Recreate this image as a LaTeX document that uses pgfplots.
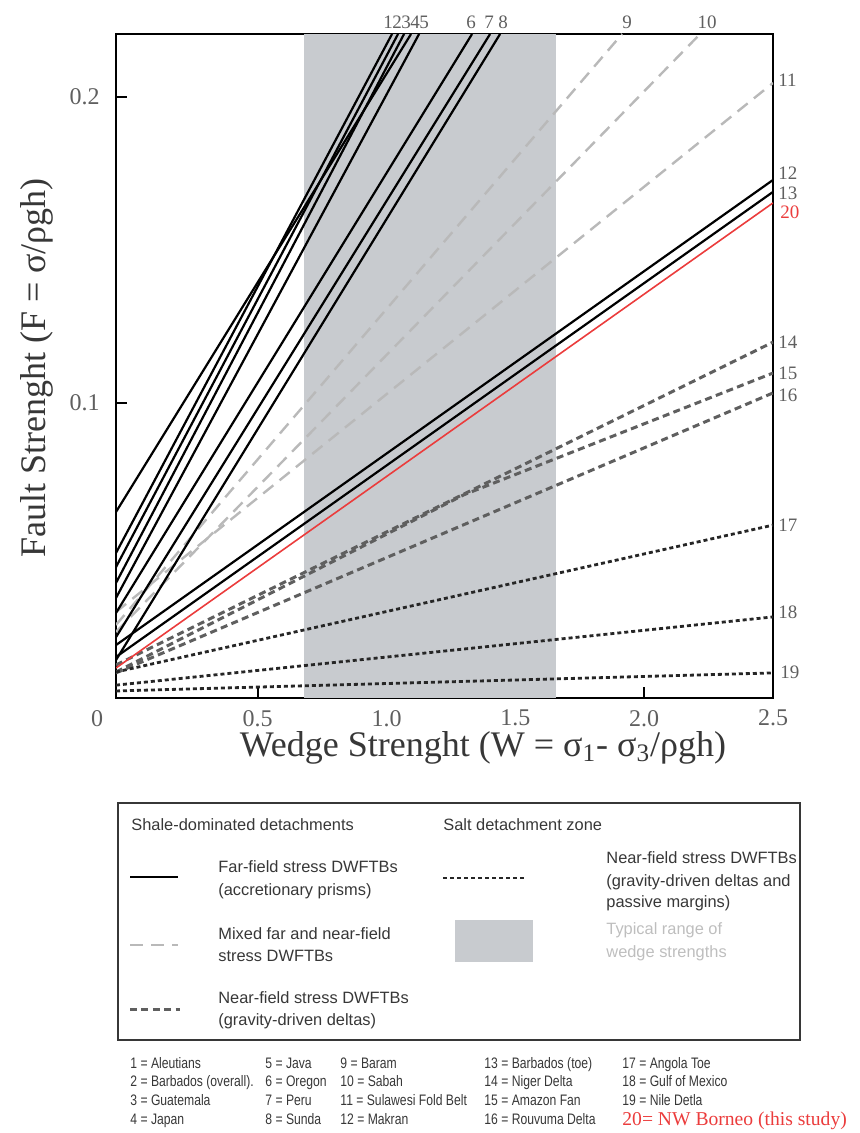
\documentclass[border=0pt]{standalone}
\usepackage{pgfplots}
\pgfplotsset{compat=1.18}
\usepackage{fontspec}
\setmainfont{Liberation Serif}
\newfontfamily\legfont{Liberation Sans}
\newfontfamily\listfont[FakeStretch=0.8]{Liberation Sans}
\definecolor{band}{RGB}{200,203,207}
\definecolor{mixgray}{RGB}{185,185,185}
\definecolor{neargray}{RGB}{95,95,95}
\definecolor{lblgray}{RGB}{95,95,95}
\definecolor{redline}{RGB}{235,60,60}
\definecolor{txtgray}{RGB}{55,55,55}
\definecolor{lighttxt}{RGB}{190,190,190}
\tikzset{
 solidl/.style={black, line width=1.1pt},
 mixl/.style={mixgray, line width=1.2pt, dash pattern=on 6.5pt off 4pt},
 nearl/.style={neargray, line width=1.5pt, dash pattern=on 3.5pt off 2.2pt},
 saltl/.style={black!85, line width=1.4pt, dash pattern=on 2pt off 1.5pt},
 redl/.style={redline, line width=0.8pt},
}
\begin{document}
\begin{tikzpicture}
\path[use as bounding box] (0,0) rectangle (430pt,-566.5pt);
\begin{axis}[
 at={(58pt,-349pt)}, anchor=south west,
 scale only axis, width=328.5pt, height=332pt,
 xmin=-0.05, xmax=2.5, ymin=0.0036, ymax=0.2206,
 axis line style={line width=1.25pt},
 no markers,
 xtick={0.5,1,1.5,2,2.5}, xticklabels={0.5,1.0,1.5,2.0,2.5},
 extra x ticks={-0.05}, extra x tick labels={0},
 extra x tick style={major tick length=0pt, xticklabel style={xshift=-9.5pt}},
 ytick={0.1,0.2}, yticklabels={0.1,0.2},
 xtick pos=bottom, ytick pos=left, tick align=inside,
 major tick length=5.5pt, tick style={line width=1pt, black},
 ticklabel style={font=\fontsize{12}{14}\selectfont, text=lblgray},
 xticklabel style={yshift=-2.5pt},
 yticklabel style={xshift=-4.7pt},
 /pgf/number format/assume math mode=true,
 xlabel={Wedge Strenght (W = σ\textsubscript{1}- σ\textsubscript{3}/ρgh)},
 ylabel={Fault Strenght (F = σ/ρgh)},
 label style={font=\fontsize{18}{20}\selectfont, text=txtgray},
 xlabel style={at={(axis description cs:0.5586,0)}, anchor=center, yshift=-25pt},
 ylabel style={at={(axis description cs:0,0.497)}, anchor=center, yshift=39.5pt},
 clip=true,
]
% typical range band
\addplot[draw=none, fill=band] coordinates {(0.68,0.2206) (1.658,0.2206)} \closedcycle;
% mixed far/near field (light dashed)
\addplot[mixl] coordinates {(-0.05,0.0275) (1.9143,0.2206)};
\addplot[mixl] coordinates {(-0.05,0.0252) (2.2171,0.2206)};
\addplot[mixl] coordinates {(-0.05,0.0317) (2.5,0.2046)};
% near-field gravity-driven deltas (dark dashed)
\addplot[nearl] coordinates {(-0.05,0.0144) (2.5,0.1199)};
\addplot[nearl] coordinates {(-0.05,0.0121) (1.3,0.0700) (2.5,0.1098)};
\addplot[nearl] coordinates {(-0.05,0.0118) (2.5,0.1033)};
% salt detachments (dotted)
\addplot[saltl] coordinates {(-0.05,0.0121) (2.5,0.0601)};
\addplot[saltl] coordinates {(-0.05,0.0078) (2.5,0.0301)};
\addplot[saltl] coordinates {(-0.05,0.0059) (2.5,0.0118)};
% far-field accretionary prisms (solid)
\addplot[solidl] coordinates {(-0.05,0.0644) (1.0952,0.2206)};
\addplot[solidl] coordinates {(-0.05,0.0510) (1.0214,0.2206)};
\addplot[solidl] coordinates {(-0.05,0.0464) (1.0447,0.2206)};
\addplot[solidl] coordinates {(-0.05,0.0412) (1.0680,0.2206)};
\addplot[solidl] coordinates {(-0.05,0.0363) (1.1263,0.2206)};
\addplot[solidl] coordinates {(-0.05,0.0314) (1.3320,0.2206)};
\addplot[solidl] coordinates {(-0.05,0.0235) (1.4019,0.2206)};
\addplot[solidl] coordinates {(-0.05,0.0160) (1.4407,0.2206)};
\addplot[solidl] coordinates {(-0.05,0.0209) (2.5,0.1729)};
\addplot[solidl] coordinates {(-0.05,0.0170) (2.5,0.1690)};
% NW Borneo (this study)
\addplot[redl] coordinates {(-0.05,0.0134) (2.5,0.1654)};
\end{axis}
\begin{scope}[x=0.5pt,y=-0.5pt]
% line labels
\begin{scope}[every node/.style={inner sep=0pt, text=lblgray, font=\fontsize{9.5}{10}\selectfont}]
\node at (388,22) {1};
\node at (397,22) {2};
\node at (406,22) {3};
\node at (415,22) {4};
\node at (424,22) {5};
\node at (471,22) {6};
\node at (489,22) {7};
\node at (503,22) {8};
\node at (627,22) {9};
\node at (707,22) {10};
\node[anchor=west] at (778,80) {11};
\node[anchor=west] at (778,173) {12};
\node[anchor=west] at (778,193) {13};
\node[anchor=west, text=redline] at (780,212) {20};
\node[anchor=west] at (778,342) {14};
\node[anchor=west] at (778,373) {15};
\node[anchor=west] at (778,395) {16};
\node[anchor=west] at (778,525) {17};
\node[anchor=west] at (778,612) {18};
\node[anchor=west] at (780,672) {19};
\end{scope}
% legend box
\draw[txtgray, line width=0.8pt] (118,803) rectangle (800,1040);
\begin{scope}[every node/.style={inner sep=0pt, anchor=base west, text=txtgray, font=\legfont\fontsize{8.2}{10}\selectfont}]
\node at (131,830) {Shale-dominated detachments};
\node at (443,830) {Salt detachment zone};
\draw[black, line width=1.3pt] (130,877) -- (178,877);
\node at (218,872) {Far-field stress DWFTBs};
\node at (218,895) {(accretionary prisms)};
\draw[saltl] (443,878) -- (527,878);
\node at (606,863) {Near-field stress DWFTBs};
\node at (606,886) {(gravity-driven deltas and};
\node at (606,907) {passive margins)};
\draw[mixl] (130,945) -- (178,945);
\node at (218,939) {Mixed far and near-field};
\node at (218,961) {stress DWFTBs};
\fill[band] (455,920) rectangle (533,962);
\node[text=lighttxt] at (606,934) {Typical range of};
\node[text=lighttxt] at (606,957) {wedge strengths};
\draw[nearl] (130,1009) -- (180,1009);
\node at (218,1003) {Near-field stress DWFTBs};
\node at (218,1025) {(gravity-driven deltas)};
\end{scope}
% list of locations
\begin{scope}[every node/.style={inner sep=0pt, anchor=base west, text=txtgray, font=\listfont\fontsize{7.6}{9}\selectfont}]
\node at (130,1068) {1 = Aleutians};
\node at (130,1086) {2 = Barbados (overall).};
\node at (130,1105) {3 = Guatemala};
\node at (130,1124) {4 = Japan};
\node at (265,1068) {5 = Java};
\node at (265,1086) {6 = Oregon};
\node at (265,1105) {7 = Peru};
\node at (265,1124) {8 = Sunda};
\node at (340,1068) {9 = Baram};
\node at (340,1086) {10 = Sabah};
\node at (340,1105) {11 = Sulawesi Fold Belt};
\node at (340,1124) {12 = Makran};
\node at (484,1068) {13 = Barbados (toe)};
\node at (484,1086) {14 = Niger Delta};
\node at (484,1105) {15 = Amazon Fan};
\node at (484,1124) {16 = Rouvuma Delta};
\node at (622,1068) {17 = Angola Toe};
\node at (622,1086) {18 = Gulf of Mexico};
\node at (622,1105) {19 = Nile Detla};
\node[text=redline, font=\fontsize{9.8}{11}\selectfont] at (622,1125) {20= NW Borneo (this study)};
\end{scope}
\end{scope}
\end{tikzpicture}
\end{document}
